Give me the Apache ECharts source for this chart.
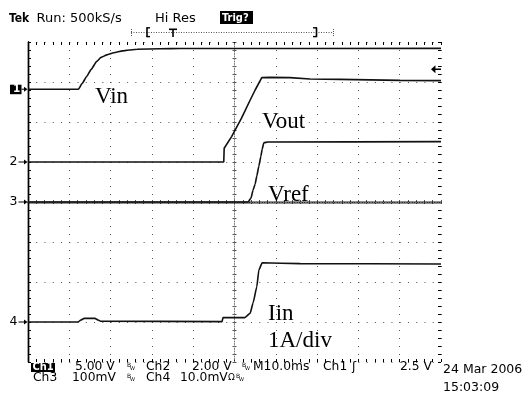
<!DOCTYPE html>
<html>
<head>
<meta charset="utf-8">
<script src="https://cdn.jsdelivr.net/npm/echarts@6/dist/echarts.min.js"></script>
<style>
  html, body { margin: 0; padding: 0; background: #fff; }
  #scope { width: 531px; height: 393px; }
</style>
</head>
<body>
<div id="scope"></div>
<script>
// Ch1 – input voltage (V) against time (ms from left edge of the screen)
const vinTimeMs = [0, 12.2, 13.1, 14.2, 15.3, 16.6, 17.7, 19.1, 20.8, 22.9, 26.4, 32.0, 36.8, 100];
const vinVolts  = [0, 0, 0.72, 1.58, 2.48, 3.45, 3.98, 4.29, 4.56, 4.79, 5.0, 5.06, 5.09, 5.1];

// Ch2 – output voltage (V)
const voutTimeMs = [0, 47.4, 47.5, 49.3, 51.7, 53.8, 55.0, 56.6, 58.6, 63.4, 68.3, 75.5, 90.1, 100];
const voutVolts  = [0, 0, 0.69, 1.27, 2.19, 3.10, 3.60, 4.22, 4.23, 4.22, 4.15, 4.13, 4.08, 4.07];

// Ch3 – reference voltage (mV)
const vrefTimeMs = [0, 53.3, 54.0, 54.5, 55.0, 55.4, 55.9, 56.4, 56.7, 57.1, 58.1, 100];
const vrefMilliV = [0, 0, 10, 30, 45, 65, 90, 115, 132, 148, 150, 151];

// Ch4 – input current (A), 1 A/div
const iinTimeMs = [0, 12.1, 12.8, 13.6, 16.2, 17.0, 17.6, 47.0, 47.2, 52.5, 53.8, 54.5, 55.4, 55.9, 56.7, 65.9, 100];
const iinAmps   = [0, 0, 0.05, 0.09, 0.09, 0.05, 0.02, 0.01, 0.11, 0.11, 0.22, 0.48, 0.88, 1.30, 1.48, 1.46, 1.45];

// Horizontal: 10 ms/div over 10 divisions; vertical: 8 divisions
const timeSpanMs = 100;
const timePerDivMs = 10;
const triggerLevelV = 2.5;

// Scale (units per division) and ground marker position (divisions from centre)
const channels = [
  { id: '1', time: vinTimeMs,  values: vinVolts,   perDiv: 5,   ground: 2.82 },
  { id: '2', time: voutTimeMs, values: voutVolts,  perDiv: 2,   ground: 1 },
  { id: '3', time: vrefTimeMs, values: vrefMilliV, perDiv: 100, ground: 0 },
  { id: '4', time: iinTimeMs,  values: iinAmps,    perDiv: 1,   ground: -3 }
];

const readoutRow1 = ['Ch1', '5.00 V', 'Ch2', '2.00 V', 'M10.0ms', 'Ch1', '2.5 V'];
const readoutRow2 = ['Ch3', '100mV', 'Ch4', '10.0mV'];
const traceNames = ['Vin', 'Vout', 'Vref', 'Iin', '1A/div'];

const SANS = 'DejaVu Sans';
const COND = 'DejaVu Sans Condensed';
const SERIF = 'Liberation Serif';

const gridLeft = 28, gridTop = 42, gridW = 413, gridH = 320;
const frameTick = 3, centreTick = 2;

const chart = echarts.init(document.getElementById('scope'), null, { renderer: 'canvas' });

const xRange = { min: 0, max: timeSpanMs, interval: timePerDivMs };
const yRange = { min: -4, max: 4, interval: 1 };

// dash pattern giving a short tick at both ends of a line of the given length
function edgeTicks(len) { return [frameTick, len - 2 * frameTick, frameTick, 2000]; }
// dash pattern giving a short tick crossing the middle of a line of the given length
function midTick(len) { return [0, len / 2 - centreTick, 2 * centreTick, 2000]; }

function axis(position, range, extra) {
  return Object.assign({
    type: 'value',
    position: position,
    axisLine: { show: false },
    axisTick: { show: false },
    minorTick: { show: false, splitNumber: 5 },
    axisLabel: { show: false },
    splitLine: { show: false },
    minorSplitLine: { show: false }
  }, range, extra);
}
function ls(color, type) { return { lineStyle: { color: color, width: 1, type: type } }; }

const frameLine = { show: true, lineStyle: { color: '#000', width: 1.4 } };
const centreLine = { show: true, lineStyle: { color: '#777', width: 1, type: [1, 1.5] } };

const series = channels.map(function (ch, i) {
  const data = ch.time.map(function (t, k) { return [t, ch.values[k] / ch.perDiv + ch.ground]; });
  const s = {
    type: 'line',
    data: data,
    xAxisIndex: 0,
    yAxisIndex: 0,
    showSymbol: false,
    symbol: 'none',
    smooth: i === 1 ? false : 0.15,
    smoothMonotone: 'x',
    lineStyle: { color: '#111', width: 1.6 },
    z: 5,
    silent: true
  };
  if (i === 0) {
    // trigger level indicator on the right edge
    s.markPoint = {
      silent: true,
      data: [{
        coord: [timeSpanMs, ch.ground + triggerLevelV / ch.perDiv],
        symbol: 'path://M0,5 L8,0 L8,10 Z M8,4 L18,4 L18,6 L8,6 Z',
        symbolSize: [10, 8],
        symbolOffset: [-5, 0],
        itemStyle: { color: '#000' },
        label: { show: false }
      }]
    };
  }
  return s;
});

function txt(text, x, y, size, opts) {
  opts = opts || {};
  return {
    type: 'text',
    x: x, y: y,
    silent: true,
    z: 20,
    style: {
      text: text,
      fill: opts.fill || '#000',
      font: (opts.weight || 'normal') + ' ' + size + 'px "' + (opts.family || SANS) + '"',
      textAlign: opts.align || 'left',
      textVerticalAlign: 'middle',
      verticalAlign: 'middle'
    }
  };
}
function box(x, y, w, h) {
  return { type: 'rect', silent: true, z: 19, shape: { x: x, y: y, width: w, height: h }, style: { fill: '#000' } };
}
function seg(x1, y1, x2, y2, dash, color, width) {
  return { type: 'line', silent: true, z: 19, shape: { x1: x1, y1: y1, x2: x2, y2: y2 },
    style: { stroke: color || '#000', lineWidth: width || 1, lineDash: dash || null } };
}
function head(x, y) {
  return { type: 'polygon', silent: true, z: 19, shape: { points: [[x, y], [x - 3.5, y - 2.5], [x - 3.5, y + 2.5]] }, style: { fill: '#000' } };
}

const R1 = 367.3, R2 = 378.3, RS = 12.3;
const graphics = [
  // status line
  txt('Tek', 9, 18.5, 12, { weight: 'bold', family: COND }),
  txt('Run: 500kS/s', 36.5, 18.5, 13),
  txt('Hi Res', 155, 18.5, 13),
  box(220, 11, 33, 13),
  txt('Trig?', 222, 18, 11, { weight: 'bold', fill: '#fff', family: COND }),
  // record position bar
  seg(131, 32.5, 333, 32.5, [1, 1.5], '#555', 1),
  seg(131.5, 29, 131.5, 36, [1, 1], '#555', 1),
  seg(333.5, 29, 333.5, 36, [1, 1], '#555', 1),
  seg(147, 27.5, 147, 37, null, '#000', 1.6),
  seg(146.5, 27.8, 150, 27.8, null, '#000', 1.4),
  seg(146.5, 36.6, 150, 36.6, null, '#000', 1.4),
  seg(316.5, 27.5, 316.5, 37, null, '#000', 1.6),
  seg(313, 27.8, 317, 27.8, null, '#000', 1.4),
  seg(313, 36.6, 317, 36.6, null, '#000', 1.4),
  seg(169, 29.3, 177, 29.3, null, '#000', 1.6),
  seg(173, 29, 173, 37, null, '#000', 1.6),
  // trace names
  txt(traceNames[0], 95, 97.2, 23, { family: SERIF }),
  txt(traceNames[1], 262, 122.2, 23, { family: SERIF }),
  txt(traceNames[2], 268, 194.5, 23, { family: SERIF }),
  txt(traceNames[3], 268, 313.9, 23, { family: SERIF }),
  txt(traceNames[4], 268, 340.5, 23, { family: SERIF }),
  // readout, first row
  box(31, 363, 24, 9),
  txt(readoutRow1[0], 32.5, R1 + 0.3, 11, { weight: 'bold', fill: '#fff', family: COND }),
  txt(readoutRow1[1], 75, R1, RS),
  txt('B', 127, R1 - 2, 6), txt('W', 130, R1 + 1.5, 5),
  txt(readoutRow1[2], 146, R1, RS),
  txt(readoutRow1[3], 192, R1, RS),
  txt('B', 242, R1 - 2, 6), txt('W', 245, R1 + 1.5, 5),
  txt(readoutRow1[4], 253, R1, RS),
  txt(readoutRow1[5], 323, R1, RS),
  txt('ʃ', 352, R1, RS),
  txt(readoutRow1[6], 400, R1, RS),
  // readout, second row
  txt(readoutRow2[0], 33, R2, RS),
  txt(readoutRow2[1], 72, R2, RS),
  txt('B', 127, R2 - 2, 6), txt('W', 130, R2 + 1.5, 5),
  txt(readoutRow2[2], 146, R2, RS),
  txt(readoutRow2[3], 180, R2, RS),
  txt('Ω', 228, R2 - 1, 9),
  txt('B', 236, R2 - 2, 6), txt('W', 239, R2 + 1.5, 5),
  // date and time
  txt('24 Mar 2006', 443, 369.8, 12.5),
  txt('15:03:09', 443, 388, 12.5)
];

chart.setOption({
  animation: false,
  backgroundColor: '#fff',
  grid: { left: gridLeft, top: gridTop, width: gridW, height: gridH, containLabel: false, show: false },
  xAxis: [
    // frame (bottom), dotted division lines, frame ticks at minor divisions
    axis('bottom', xRange, {
      axisLine: frameLine,
      splitLine: Object.assign({ show: true }, ls('#555', [1, 7])),
      minorSplitLine: Object.assign({ show: true }, ls('#000', edgeTicks(gridH)))
    }),
    // frame (top), frame ticks at major divisions, centre ticks at minor divisions
    axis('top', xRange, {
      axisLine: frameLine,
      splitLine: Object.assign({ show: true }, ls('#000', edgeTicks(gridH))),
      minorSplitLine: Object.assign({ show: true }, ls('#555', midTick(gridH)))
    }),
    // horizontal centre line
    axis('bottom', xRange, {
      offset: -gridH / 2,
      axisLine: centreLine,
      splitLine: Object.assign({ show: true }, ls('#555', midTick(gridH)))
    })
  ],
  yAxis: [
    axis('left', yRange, {
      axisLine: frameLine,
      splitLine: Object.assign({ show: true }, ls('#555', [1, 7.26])),
      minorSplitLine: Object.assign({ show: true }, ls('#000', edgeTicks(gridW)))
    }),
    axis('right', yRange, {
      axisLine: frameLine,
      splitLine: Object.assign({ show: true }, ls('#000', edgeTicks(gridW))),
      minorSplitLine: Object.assign({ show: true }, ls('#555', midTick(gridW)))
    }),
    // vertical centre line
    axis('left', yRange, {
      offset: -gridW / 2,
      axisLine: centreLine,
      splitLine: Object.assign({ show: true }, ls('#555', midTick(gridW)))
    })
  ],
  series: series,
  graphic: graphics
});

// channel ground markers on the left edge, placed through the chart's own scales
const markers = [];
channels.forEach(function (ch, i) {
  const p = chart.convertToPixel({ xAxisIndex: 0, yAxisIndex: 0 }, [0, ch.ground]);
  const x = p[0] - 0.5, y = p[1];
  if (i === 0) {
    markers.push(box(x - 17.5, y - 4.5, 11.5, 9.5));
    markers.push(txt(ch.id, x - 14.5, y + 0.2, 10.5, { weight: 'bold', fill: '#fff' }));
    markers.push(seg(x - 6, y, x - 3, y, null, '#000', 1));
  } else {
    markers.push(txt(ch.id, x - 18, y, 12.5));
    markers.push(seg(x - 9, y, x - 3, y, null, '#000', 1));
  }
  markers.push(head(x, y));
});
chart.setOption({ graphic: graphics.concat(markers) });
</script>
</body>
</html>
